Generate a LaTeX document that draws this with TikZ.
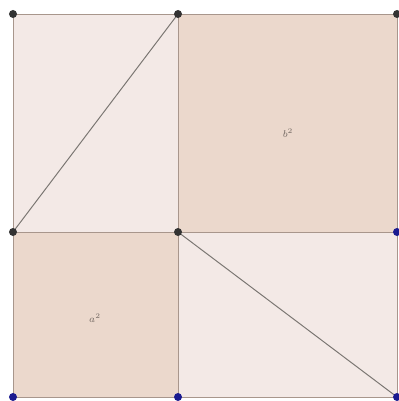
\documentclass[tikz,border=0pt]{standalone}
\usepackage{tikz}
\usetikzlibrary{positioning}
\definecolor{sqfill}{HTML}{EBD8CC}
\definecolor{rcfill}{HTML}{F3E9E6}
\definecolor{edge}{HTML}{A8968C}
\definecolor{diag}{HTML}{7A7672}
\definecolor{ptdark}{HTML}{333333}
\definecolor{ptblue}{HTML}{1A1A90}
\definecolor{lbl}{HTML}{706660}

\begin{document}
\begin{tikzpicture}[
  x=0.025cm, y=-0.025cm,
  sqr/.style={fill=sqfill, draw=edge, line width=0.5pt},
  rct/.style={fill=rcfill, draw=edge, line width=0.5pt},
  diagline/.style={draw=diag, line width=0.7pt},
  ptd/.style={circle, fill=ptdark, inner sep=0pt, minimum size=2mm},
  ptb/.style={circle, fill=ptblue, inner sep=0pt, minimum size=2mm},
  sqlabel/.style={font=\scriptsize, text=lbl}
]
  \useasboundingbox (0,0) rectangle (399,401);

  % corners of the figure
  \coordinate (tl) at (13,14);
  \coordinate (tm) at (178,14);
  \coordinate (tr) at (397,14);
  \coordinate (ml) at (13,232);
  \coordinate (mm) at (178,232);
  \coordinate (mr) at (397,232);
  \coordinate (bl) at (13,397);
  \coordinate (bm) at (178,397);
  \coordinate (br) at (397,397);

  % two rectangles and two squares
  \draw[rct] (tl) rectangle (mm);
  \draw[sqr] (tm) rectangle (mr);
  \draw[sqr] (ml) rectangle (bm);
  \draw[rct] (mm) rectangle (br);

  % diagonals of the rectangles
  \draw[diagline] (ml) -- (tm);
  \draw[diagline] (mm) -- (br);

  \node[sqlabel] (bsq) at (288,133) {$b^2$};
  \node[sqlabel] (asq) at (95,318) {$a^2$};

  % points
  \foreach \p in {tl,tm,tr,ml,mm}
    \node[ptd] at (\p) {};
  \foreach \p in {mr,bl,bm,br}
    \node[ptb] at (\p) {};
\end{tikzpicture}
\end{document}
